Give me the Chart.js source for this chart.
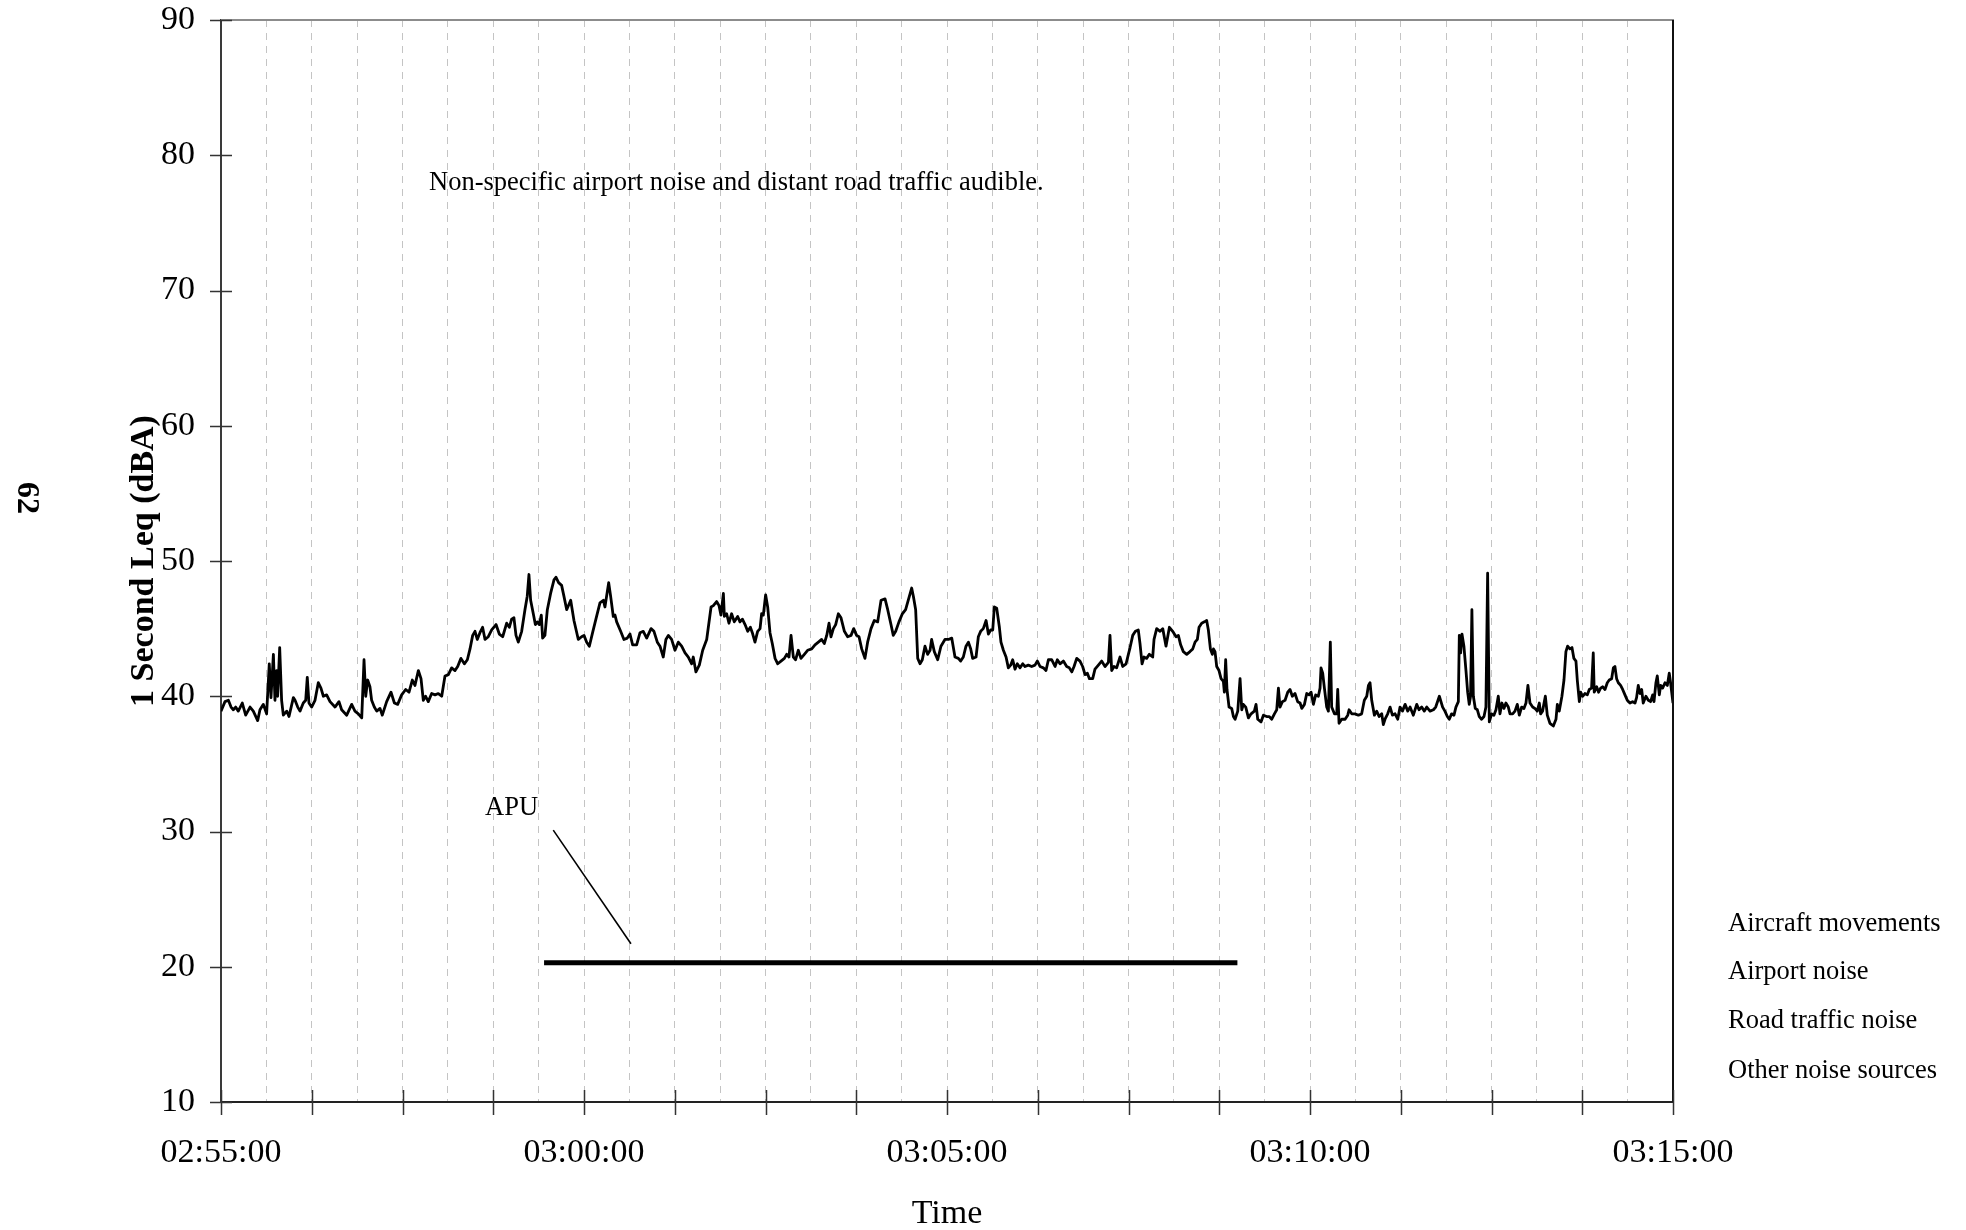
<!DOCTYPE html>
<html>
<head>
<meta charset="utf-8">
<title>1 Second Leq</title>
<script src="https://cdn.jsdelivr.net/npm/chart.js@4/dist/chart.umd.min.js"></script>
<style>
  html, body { margin: 0; padding: 0; background: #fff; }
  canvas { display: block; }
</style>
</head>
<body>
<canvas id="leqChart" width="1966" height="1230"></canvas>
<script>
// Seconds after 02:55:00 and the 1-second Leq level (dBA) at that moment
const seconds = [
  0, 3.3, 6.1, 8.3, 10.2, 12.1, 14.3, 17.6, 20.4, 24.0, 26.7, 30.3, 32.2, 35.0, 37.7, 39.9, 41.3, 43.3, 44.6, 46.0,
  46.8, 48.5, 50.1, 51.5, 54.3, 56.2, 59.8, 61.2, 63.4, 65.3, 68.0, 70.0, 71.3, 72.7, 74.9, 77.7, 80.4, 82.6, 84.6, 87.3,
  90.1, 94.2, 97.5, 99.7, 103.9, 108.0, 110.7, 113.5, 116.3, 118.2, 119.6, 121.2, 123.1, 124.5, 126.7, 128.7, 131.4, 133.3, 136.9, 140.5,
  143.3, 146.0, 149.3, 152.6, 155.4, 158.1, 160.3, 163.1, 165.3, 167.2, 169.1, 171.3, 174.1, 176.9, 179.6, 182.4, 185.1, 187.9, 190.6, 193.4,
  195.6, 198.3, 201.1, 203.6, 205.8, 208.0, 209.9, 211.8, 214.0, 216.2, 218.2, 220.9, 223.7, 227.3, 230.0, 232.8, 236.1, 238.3, 240.2, 242.1,
  243.8, 245.7, 248.5, 251.2, 253.1, 254.5, 255.9, 258.1, 259.8, 261.4, 263.1, 264.7, 265.8, 267.7, 269.7, 272.4, 275.2, 276.8, 279.0, 281.5,
  283.4, 285.7, 289.0, 291.7, 295.3, 298.0, 300.0, 302.2, 304.4, 307.1, 310.4, 313.2, 316.0, 317.3, 320.4, 322.0, 324.2, 325.6, 327.0, 330.3,
  333.0, 335.8, 338.0, 340.2, 343.5, 346.3, 349.0, 351.8, 355.4, 357.8, 360.6, 362.8, 365.5, 367.7, 369.7, 372.4, 375.2, 377.9, 380.7, 383.5,
  386.2, 389.0, 390.3, 392.5, 395.3, 398.1, 401.4, 405.0, 406.9, 409.6, 411.6, 413.2, 415.2, 416.0, 417.9, 419.8, 422.0, 424.2, 427.0, 428.9,
  430.9, 433.1, 435.3, 437.5, 439.1, 441.3, 443.5, 445.5, 446.8, 448.2, 450.1, 451.8, 453.7, 455.6, 457.9, 460.1, 462.8, 465.6, 467.5, 469.4,
  471.1, 473.0, 474.9, 477.1, 479.3, 482.1, 484.8, 488.2, 490.9, 493.7, 496.4, 498.6, 500.6, 502.5, 504.1, 506.1, 508.0, 510.2, 512.4, 515.2,
  517.9, 520.7, 522.9, 525.3, 527.3, 529.5, 532.2, 534.4, 537.2, 539.9, 542.7, 545.5, 548.8, 551.0, 553.7, 555.6, 557.6, 560.3, 563.1, 565.8,
  568.0, 570.8, 572.2, 574.1, 575.8, 577.7, 579.6, 581.8, 584.0, 586.0, 587.3, 589.5, 592.3, 595.0, 598.3, 601.1, 603.9, 606.6, 609.4, 611.3,
  613.5, 615.7, 617.7, 619.6, 621.2, 624.0, 625.9, 627.8, 630.0, 632.3, 634.2, 636.1, 637.8, 639.1, 641.1, 643.3, 644.6, 646.6, 648.8, 650.7,
  652.6, 654.3, 656.2, 658.1, 660.4, 662.6, 664.5, 667.2, 670.0, 672.7, 674.7, 676.9, 679.6, 681.8, 683.8, 686.5, 689.3, 691.2, 693.4, 696.2,
  698.9, 701.1, 703.1, 705.0, 707.2, 709.9, 712.1, 714.1, 716.0, 717.7, 720.4, 722.3, 725.1, 727.8, 730.6, 733.4, 734.7, 736.1, 738.0, 740.2,
  743.0, 745.2, 748.0, 749.9, 751.3, 753.5, 755.7, 758.1, 759.5, 761.2, 762.8, 765.0, 767.2, 770.0, 771.1, 773.3, 776.1, 778.3, 781.0, 783.8,
  786.5, 789.3, 791.2, 793.1, 795.3, 798.1, 800.8, 803.1, 805.0, 806.9, 808.3, 810.5, 812.7, 814.6, 816.0, 817.7, 819.3, 820.2, 821.5, 822.9,
  824.8, 826.5, 828.4, 829.2, 830.3, 831.4, 833.1, 835.3, 836.7, 838.1, 840.3, 842.2, 843.6, 844.9, 846.9, 849.1, 851.3, 854.0, 855.4, 856.8,
  859.5, 861.5, 864.2, 866.2, 868.4, 870.6, 872.5, 873.9, 875.2, 877.2, 879.4, 881.6, 883.5, 885.4, 887.6, 889.8, 891.8, 893.2, 895.4, 897.3,
  899.2, 900.9, 902.8, 904.7, 906.9, 908.3, 909.1, 910.5, 911.9, 913.8, 915.2, 916.8, 917.9, 920.2, 922.1, 922.9, 924.0, 926.2, 929.0, 931.2,
  932.3, 934.5, 937.2, 940.0, 942.7, 944.9, 946.9, 948.3, 949.6, 951.0, 953.2, 955.1, 957.1, 959.3, 960.6, 962.0, 964.2, 966.2, 968.1, 970.3,
  972.5, 974.4, 976.4, 978.6, 980.8, 982.7, 985.4, 988.2, 990.1, 992.3, 994.5, 996.5, 999.2, 1002.0, 1003.9, 1006.9, 1009.6, 1011.5, 1013.5, 1015.1,
  1017.0, 1019.0, 1020.6, 1022.6, 1023.4, 1024.5, 1025.6, 1027.2, 1028.9, 1030.3, 1031.6, 1032.7, 1033.8, 1035.0, 1036.6, 1038.3, 1039.9, 1041.8, 1043.8, 1045.4,
  1046.8, 1048.2, 1050.1, 1052.0, 1053.7, 1055.6, 1057.0, 1058.6, 1060.3, 1061.9, 1063.9, 1065.3, 1067.5, 1069.4, 1071.3, 1073.0, 1074.9, 1076.8, 1078.5, 1080.1,
  1081.8, 1084.0, 1085.9, 1087.8, 1089.5, 1090.6, 1092.2, 1094.5, 1096.1, 1098.3, 1101.1, 1103.3, 1104.4, 1106.0, 1108.2, 1109.9, 1111.5, 1112.9, 1114.8, 1116.5,
  1118.1, 1119.8, 1120.9, 1122.6, 1123.7, 1125.3, 1127.2, 1129.2, 1130.8, 1132.7, 1134.1, 1134.9, 1136.9, 1138.5, 1140.2, 1141.8, 1143.8, 1145.7, 1147.3, 1149.3,
  1150.7, 1152.0, 1153.4, 1154.8, 1156.7, 1158.4, 1160.3, 1162.2, 1164.4, 1166.6, 1168.6, 1169.9, 1171.3, 1172.7, 1174.1, 1175.4, 1177.6, 1179.6, 1181.5, 1183.2,
  1184.3, 1185.9, 1187.0, 1188.7, 1189.8, 1191.4, 1193.4, 1195.3, 1196.9, 1198.0, 1200.0
];
const leq = [
  38.9, 39.6, 39.7, 39.2, 39.0, 39.2, 38.9, 39.5, 38.6, 39.2, 38.9, 38.2, 39.0, 39.4, 38.7, 42.4, 39.9, 43.1, 39.7, 41.9,
  40.0, 43.6, 39.7, 38.6, 38.9, 38.5, 39.9, 39.7, 39.2, 38.9, 39.5, 39.7, 41.4, 39.5, 39.2, 39.7, 41.0, 40.6, 40.0, 40.1,
  39.6, 39.2, 39.6, 39.0, 38.6, 39.4, 38.9, 38.7, 38.4, 42.7, 40.0, 41.2, 40.7, 39.7, 39.2, 38.9, 39.1, 38.6, 39.6, 40.3,
  39.5, 39.4, 40.1, 40.5, 40.3, 41.2, 40.8, 41.9, 41.3, 39.7, 40.0, 39.6, 40.2, 40.1, 40.2, 40.0, 41.5, 41.6, 42.1, 41.9,
  42.2, 42.8, 42.4, 42.7, 43.5, 44.5, 44.8, 44.2, 44.7, 45.1, 44.2, 44.4, 44.9, 45.3, 44.6, 44.4, 45.4, 45.1, 45.7, 45.8,
  44.5, 44.0, 44.8, 46.4, 47.4, 49.0, 47.1, 46.1, 45.3, 45.5, 45.3, 46.0, 44.3, 44.5, 46.4, 47.6, 48.6, 48.8, 48.4, 48.2,
  47.4, 46.4, 47.1, 45.6, 44.2, 44.4, 44.5, 44.0, 43.7, 44.7, 45.9, 46.9, 47.1, 46.6, 48.4, 47.4, 45.9, 46.0, 45.5, 44.8,
  44.2, 44.3, 44.6, 43.8, 43.8, 44.7, 44.8, 44.3, 45.0, 44.8, 44.0, 43.7, 42.9, 44.2, 44.5, 44.2, 43.4, 44.0, 43.7, 43.2,
  42.9, 42.4, 42.9, 41.8, 42.3, 43.4, 44.2, 46.6, 46.7, 47.0, 46.7, 46.0, 47.6, 45.9, 46.1, 45.4, 46.1, 45.5, 45.9, 45.5,
  45.7, 45.3, 44.8, 45.1, 44.7, 44.0, 44.8, 45.0, 46.1, 46.0, 47.5, 46.6, 44.7, 43.9, 42.8, 42.4, 42.6, 42.8, 43.1, 42.9,
  44.5, 42.9, 42.7, 43.4, 42.8, 43.1, 43.4, 43.5, 43.8, 44.0, 44.2, 43.9, 44.5, 45.4, 44.4, 45.0, 45.3, 46.1, 45.8, 44.8,
  44.4, 44.5, 45.0, 44.5, 44.4, 43.5, 42.8, 44.0, 45.0, 45.6, 45.5, 47.1, 47.2, 46.4, 45.3, 44.5, 44.8, 45.5, 46.1, 46.4,
  47.1, 48.0, 47.4, 46.4, 42.8, 42.4, 42.7, 43.7, 43.1, 43.4, 44.2, 43.3, 42.7, 43.7, 44.2, 44.2, 44.3, 42.9, 42.8, 42.6,
  42.9, 43.7, 44.0, 43.5, 42.8, 42.9, 44.4, 44.8, 45.0, 45.6, 44.6, 44.9, 44.9, 46.6, 46.5, 45.1, 44.0, 43.4, 42.9, 42.1,
  42.3, 42.7, 42.0, 42.4, 42.1, 42.4, 42.2, 42.3, 42.2, 42.3, 42.6, 42.2, 42.1, 41.9, 42.7, 42.7, 42.2, 42.7, 42.4, 42.6,
  42.2, 42.1, 41.8, 42.2, 42.8, 42.6, 42.2, 41.6, 41.7, 41.3, 41.3, 42.0, 42.3, 42.6, 42.2, 42.5, 44.5, 41.9, 42.2, 42.1,
  42.9, 42.2, 42.4, 43.1, 43.6, 44.5, 44.8, 44.9, 43.9, 42.4, 42.9, 42.8, 43.1, 42.9, 44.2, 45.0, 44.8, 45.0, 43.7, 45.1,
  44.8, 44.4, 44.5, 43.8, 43.3, 43.1, 43.3, 43.5, 44.0, 44.2, 45.1, 45.4, 45.5, 45.6, 44.9, 43.5, 43.1, 43.5, 43.3, 42.2,
  41.9, 41.3, 41.1, 40.3, 42.7, 40.5, 39.2, 39.1, 38.5, 38.3, 38.9, 41.3, 39.0, 39.4, 39.2, 38.4, 38.7, 38.9, 39.4, 38.3,
  38.1, 38.6, 38.5, 38.5, 38.3, 38.7, 39.0, 40.6, 39.2, 39.6, 39.7, 40.3, 40.5, 40.0, 40.2, 39.6, 39.5, 39.1, 39.4, 40.2,
  40.1, 40.3, 39.4, 40.1, 40.0, 40.6, 42.1, 41.7, 40.6, 39.2, 38.9, 44.0, 39.2, 38.7, 38.7, 40.5, 38.0, 38.3, 38.3, 38.6,
  39.0, 38.7, 38.7, 38.6, 38.7, 39.7, 40.0, 40.8, 41.0, 39.7, 38.6, 38.9, 38.5, 38.7, 37.9, 38.3, 38.7, 39.2, 38.6, 38.7,
  38.3, 39.2, 38.9, 39.4, 38.9, 39.2, 38.6, 39.4, 39.0, 39.2, 38.9, 39.2, 38.9, 39.0, 39.2, 40.0, 39.2, 38.9, 38.5, 38.3,
  38.7, 38.6, 39.2, 39.6, 44.5, 43.2, 44.6, 43.7, 41.9, 40.3, 39.4, 40.0, 46.4, 40.0, 39.1, 39.0, 38.5, 38.3, 38.5, 39.2,
  49.1, 38.1, 38.7, 38.6, 39.0, 40.0, 38.7, 39.5, 39.1, 39.5, 39.2, 38.7, 38.7, 38.9, 39.4, 38.6, 39.2, 39.1, 39.5, 40.8,
  39.5, 39.2, 39.1, 38.9, 39.5, 38.7, 38.9, 40.0, 38.6, 38.0, 37.8, 38.3, 39.4, 38.9, 40.0, 41.2, 43.3, 43.7, 43.5, 43.6,
  42.8, 42.6, 41.2, 39.6, 40.3, 40.0, 40.2, 40.1, 40.5, 40.6, 43.2, 40.3, 40.7, 40.3, 40.6, 40.7, 40.5, 41.0, 41.2, 41.3,
  42.1, 42.2, 41.3, 41.0, 40.8, 40.5, 40.1, 39.7, 39.5, 39.6, 39.5, 39.9, 40.8, 40.2, 40.5, 39.5, 40.0, 39.7, 39.6, 40.1,
  39.6, 41.0, 41.5, 40.1, 40.8, 40.6, 41.0, 40.8, 41.7, 41.0, 39.5
];

// Axis labelling
const timeLabels = ['02:55:00', '03:00:00', '03:05:00', '03:10:00', '03:15:00']; // one every 300 s
const levelTicks = [10, 20, 30, 40, 50, 60, 70, 80, 90];

// APU running period (s) and the level it is drawn at (dBA)
const apuSeconds = [267, 840];
const apuLevel = [20.3, 20.3];
// Leader from the "APU" label down to the bar
const apuLeaderSeconds = [274.6, 338.8];
const apuLeaderLevel = [30.1, 21.7];

const noteText = 'Non-specific airport noise and distant road traffic audible.';
const apuText = 'APU';
const sourceNames = ['Aircraft movements', 'Airport noise', 'Road traffic noise', 'Other noise sources'];
const pageNumber = '62';

const SERIF = "'Liberation Serif', 'Times New Roman', Times, serif";
const gridSeconds = Array.from({ length: 33 }, (_, i) => i * 37.5);
const majorTickSeconds = Array.from({ length: 17 }, (_, i) => i * 75);

const toPoints = (xs, ys) => xs.map((x, i) => ({ x, y: ys[i] }));

const frameAndNotes = {
  id: 'frameAndNotes',
  afterDraw(chart) {
    const { ctx, chartArea: a, scales: { x, y } } = chart;
    ctx.save();

    // top and right edges of the plot frame
    ctx.lineWidth = 2;
    ctx.strokeStyle = '#8c8c8c';
    ctx.beginPath();
    ctx.moveTo(a.left, a.top);
    ctx.lineTo(a.right + 1, a.top);
    ctx.stroke();
    ctx.strokeStyle = '#111';
    ctx.beginPath();
    ctx.moveTo(a.right, a.top);
    ctx.lineTo(a.right, a.bottom);
    ctx.stroke();

    // tick marks crossing both axes
    ctx.strokeStyle = '#333';
    ctx.lineWidth = 1.5;
    ctx.beginPath();
    levelTicks.forEach(v => {
      const py = Math.round(y.getPixelForValue(v)) + 0.5;
      ctx.moveTo(a.left - 11, py);
      ctx.lineTo(a.left + 11, py);
    });
    majorTickSeconds.forEach(s => {
      const px = Math.round(x.getPixelForValue(s)) + 0.5;
      ctx.moveTo(px, a.bottom - 12);
      ctx.lineTo(px, a.bottom + 13);
    });
    ctx.stroke();

    // notes inside the plot
    ctx.fillStyle = '#000';
    ctx.font = '26.5px ' + SERIF;
    ctx.textAlign = 'left';
    ctx.textBaseline = 'alphabetic';
    ctx.fillText(noteText, x.getPixelForValue(171.9), y.getPixelForValue(77.4));
    ctx.fillText(apuText, x.getPixelForValue(218.2), y.getPixelForValue(31.2));

    // noise source list to the right of the plot
    const listBaselines = [931, 979, 1028, 1078];
    sourceNames.forEach((name, i) => ctx.fillText(name, a.right + 55, listBaselines[i]));

    // page number, turned with the page
    ctx.font = 'bold 32px ' + SERIF;
    ctx.translate(26, 498);
    ctx.rotate(Math.PI / 2);
    ctx.textAlign = 'center';
    ctx.textBaseline = 'middle';
    ctx.fillText(pageNumber, 0, 0);
    ctx.restore();
  }
};

new Chart(document.getElementById('leqChart'), {
  type: 'scatter',
  data: {
    datasets: [
      {
        label: '1 Second Leq',
        data: toPoints(seconds, leq),
        showLine: true,
        borderColor: '#000',
        borderWidth: 2.8,
        borderJoinStyle: 'round',
        pointRadius: 0,
        tension: 0
      },
      {
        label: 'APU',
        data: toPoints(apuSeconds, apuLevel),
        showLine: true,
        borderColor: '#000',
        borderWidth: 5,
        borderCapStyle: 'butt',
        pointRadius: 0
      },
      {
        label: 'APU leader',
        data: toPoints(apuLeaderSeconds, apuLeaderLevel),
        showLine: true,
        borderColor: '#000',
        borderWidth: 1.6,
        pointRadius: 0
      }
    ]
  },
  options: {
    responsive: false,
    animation: false,
    devicePixelRatio: 1,
    layout: { padding: { top: 20, right: 293, bottom: 0, left: 0 } },
    plugins: {
      legend: { display: false },
      tooltip: { enabled: false }
    },
    scales: {
      x: {
        type: 'linear',
        min: 0,
        max: 1200,
        afterBuildTicks: s => { s.ticks = gridSeconds.map(v => ({ value: v })); },
        afterFit: s => { s.height = 128; s.paddingLeft = 0; s.paddingRight = 0; },
        ticks: {
          autoSkip: false,
          maxRotation: 0,
          padding: 31,
          color: '#000',
          font: { family: SERIF, size: 34 },
          callback: v => (Math.abs(v % 300) < 1e-6 ? timeLabels[Math.round(v / 300)] : '')
        },
        grid: { color: '#c4c4c4', lineWidth: 1, drawTicks: false },
        border: { display: true, color: '#222', width: 2, dash: [7, 6] },
        title: {
          display: true,
          text: 'Time',
          color: '#000',
          font: { family: SERIF, size: 34 },
          padding: { top: 0, bottom: -4.5 }
        }
      },
      y: {
        type: 'linear',
        min: 10,
        max: 90,
        afterBuildTicks: s => { s.ticks = levelTicks.map(v => ({ value: v })); },
        afterFit: s => { s.width = 221; s.paddingTop = 0; s.paddingBottom = 0; },
        ticks: {
          padding: 26,
          color: '#000',
          font: { family: SERIF, size: 34 }
        },
        grid: { display: false, drawTicks: false },
        border: { display: true, color: '#3a3a3a', width: 2 },
        title: {
          display: true,
          text: '1 Second Leq (dBA)',
          color: '#000',
          font: { family: SERIF, size: 34, weight: 'bold' },
          padding: { top: 124, bottom: 0 }
        }
      }
    }
  },
  plugins: [frameAndNotes]
});
</script>
</body>
</html>
